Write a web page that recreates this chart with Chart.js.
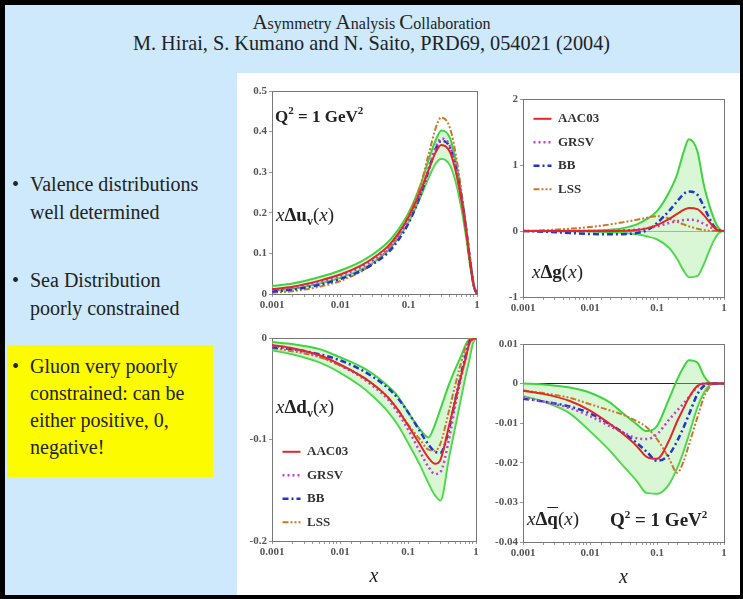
<!DOCTYPE html>
<html>
<head>
<meta charset="utf-8">
<script src="https://cdn.jsdelivr.net/npm/chart.js@4"></script>
<style>
  html, body { margin: 0; padding: 0; }
  body { width: 743px; height: 599px; overflow: hidden; background: #000; position: relative; font-family: 'Liberation Serif', serif; }
  #slide { position: absolute; left: 5px; top: 5px; width: 735px; height: 590px; background: #cde9fb; }
  #white { position: absolute; left: 237px; top: 73px; width: 503px; height: 522px; background: #fff; }
  .t1, .t2 { position: absolute; left: 0; width: 743px; text-align: center; color: #222; }
  .t1 { top: 10px; font-size: 16px; }
  .t1 .cap { font-size: 21px; }
  .t2 { top: 32px; font-size: 20.3px; }
  .bul { position: absolute; left: 12px; font-size: 20px; line-height: 28px; color: #222; }
  .bul .dot { position: absolute; left: 0; }
  .bul .txt { position: absolute; left: 18px; white-space: nowrap; }
  #yellow { position: absolute; left: 7px; top: 345px; width: 206px; height: 132px; background: #fdfb00; }
  canvas { position: absolute; }
  .lab { position: absolute; font-size: 19px; line-height: 1; color: #222; white-space: nowrap; }
  .lab sub { font-size: 12px; vertical-align: -4px; font-weight: bold; }
  .lab sup { font-size: 11px; vertical-align: 8px; }
  .q2 { font-weight: bold; }
</style>
</head>
<body>
<div id="slide"></div>
<div id="white"></div>
<div class="t1"><span class="cap">A</span>symmetry <span class="cap">A</span>nalysis <span class="cap">C</span>ollaboration</div>
<div class="t2">M. Hirai, S. Kumano and N. Saito, PRD69, 054021 (2004)</div>

<div class="bul" style="top:170px"><span class="dot">•</span><span class="txt">Valence distributions<br>well determined</span></div>
<div class="bul" style="top:266px"><span class="dot">•</span><span class="txt">Sea Distribution<br>poorly constrained</span></div>
<div id="yellow"></div>
<div class="bul" style="top:353px; line-height:27px"><span class="dot">•</span><span class="txt">Gluon very poorly<br>constrained: can be<br>either positive, 0,<br>negative!</span></div>

<canvas id="cUv"></canvas>
<canvas id="cG"></canvas>
<canvas id="cDv"></canvas>
<canvas id="cQb"></canvas>

<div class="lab q2" style="left:275px; top:105px; font-size:17px">Q<sup>2</sup> = 1 GeV<sup>2</sup></div>
<div class="lab" style="left:276px; top:205px"><i>x</i><b>Δu</b><sub>v</sub>(<i>x</i>)</div>
<div class="lab" style="left:532px; top:262px"><i>x</i><b>Δg</b>(<i>x</i>)</div>
<div class="lab" style="left:276px; top:397px"><i>x</i><b>Δd</b><sub>v</sub>(<i>x</i>)</div>
<div class="lab" style="left:527px; top:509px"><i>x</i><b>Δ<span style="text-decoration:overline">q</span></b>(<i>x</i>)</div>
<div class="lab q2" style="left:610px; top:509px">Q<sup>2</sup> = 1 GeV<sup>2</sup></div>

<script>
// x grid shared by all curves
const xs = [0.001, 0.002, 0.005, 0.01, 0.02, 0.03, 0.05, 0.07, 0.1, 0.15, 0.2, 0.25, 0.3, 0.4, 0.5, 0.6, 0.7, 0.8, 0.9, 1];
const seriesNames = ['AAC03', 'GRSV', 'BB', 'LSS'];
const xTickLabels = ['0.001', '0.01', '0.1', '1'];

// x Delta u_v
const uvAAC  = [0.012, 0.018, 0.033, 0.048, 0.07, 0.088, 0.118, 0.148, 0.19, 0.255, 0.31, 0.35, 0.367, 0.35, 0.295, 0.225, 0.15, 0.075, 0.02, 0];
const uvGRSV = [0.01, 0.016, 0.03, 0.045, 0.066, 0.083, 0.112, 0.142, 0.183, 0.25, 0.315, 0.362, 0.383, 0.365, 0.305, 0.232, 0.155, 0.078, 0.02, 0];
const uvBB   = [0.006, 0.011, 0.023, 0.037, 0.057, 0.074, 0.102, 0.132, 0.175, 0.245, 0.31, 0.358, 0.377, 0.362, 0.303, 0.23, 0.153, 0.077, 0.02, 0];
const uvLSS  = [0.003, 0.007, 0.018, 0.032, 0.055, 0.075, 0.11, 0.145, 0.195, 0.27, 0.35, 0.41, 0.435, 0.41, 0.335, 0.245, 0.16, 0.078, 0.02, 0];
const uvUp   = [0.02, 0.026, 0.042, 0.058, 0.08, 0.098, 0.128, 0.158, 0.2, 0.27, 0.335, 0.38, 0.403, 0.385, 0.32, 0.24, 0.16, 0.08, 0.022, 0];
const uvLow  = [0.008, 0.013, 0.026, 0.04, 0.06, 0.077, 0.107, 0.137, 0.178, 0.24, 0.29, 0.322, 0.333, 0.318, 0.27, 0.205, 0.135, 0.065, 0.017, 0];
const uvTicks = [0, 0.1, 0.2, 0.3, 0.4, 0.5];

// x Delta g
const gAAC  = [0, 0, 0, 0, 0, 0.003, 0.015, 0.04, 0.09, 0.18, 0.26, 0.32, 0.35, 0.33, 0.24, 0.14, 0.06, 0.015, 0.002, 0];
const gGRSV = [0, 0, 0, 0, 0.003, 0.008, 0.02, 0.04, 0.07, 0.12, 0.15, 0.165, 0.17, 0.155, 0.11, 0.07, 0.035, 0.01, 0.002, 0];
const gBB   = [0, -0.01, -0.03, -0.045, -0.05, -0.048, -0.03, 0.01, 0.12, 0.3, 0.45, 0.56, 0.6, 0.55, 0.37, 0.2, 0.08, 0.02, 0.003, 0];
const gLSS  = [0, 0.01, 0.035, 0.06, 0.1, 0.13, 0.17, 0.2, 0.225, 0.19, 0.14, 0.1, 0.07, 0.035, 0.015, 0.005, 0.002, 0, 0, 0];
const gUp   = [0, 0, 0.002, 0.006, 0.02, 0.04, 0.1, 0.18, 0.3, 0.58, 0.86, 1.2, 1.39, 1.21, 0.7, 0.4, 0.2, 0.07, 0.01, 0];
const gLow  = [0, 0, -0.002, -0.006, -0.015, -0.025, -0.05, -0.08, -0.125, -0.25, -0.42, -0.6, -0.7, -0.68, -0.5, -0.3, -0.15, -0.05, -0.008, 0];
const gTicks = [-1, 0, 1, 2];

// x Delta d_v
const dvAAC  = [-0.007, -0.01, -0.017, -0.026, -0.037, -0.045, -0.058, -0.07, -0.086, -0.105, -0.118, -0.124, -0.12, -0.087, -0.06, -0.038, -0.021, -0.005, -0.001, 0];
const dvGRSV = [-0.008, -0.011, -0.018, -0.027, -0.038, -0.047, -0.06, -0.073, -0.09, -0.112, -0.127, -0.134, -0.132, -0.1, -0.065, -0.04, -0.02, -0.005, -0.001, 0];
const dvBB   = [-0.009, -0.011, -0.016, -0.022, -0.031, -0.038, -0.049, -0.059, -0.073, -0.092, -0.105, -0.112, -0.113, -0.09, -0.06, -0.036, -0.018, -0.004, 0, 0];
const dvLSS  = [-0.01, -0.013, -0.019, -0.027, -0.037, -0.045, -0.058, -0.07, -0.085, -0.1, -0.11, -0.111, -0.104, -0.072, -0.045, -0.025, -0.01, -0.002, 0, 0];
const dvUp   = [-0.004, -0.006, -0.011, -0.019, -0.028, -0.035, -0.047, -0.057, -0.073, -0.09, -0.098, -0.085, -0.07, -0.046, -0.03, -0.018, -0.007, -0.001, 0, 0];
const dvLow  = [-0.012, -0.016, -0.024, -0.034, -0.047, -0.057, -0.072, -0.085, -0.103, -0.125, -0.143, -0.155, -0.16, -0.118, -0.086, -0.06, -0.038, -0.021, -0.005, 0];
const dvTicks = [-0.2, -0.1, 0];

// x Delta qbar
const qbAAC  = [-0.0018, -0.0026, -0.0044, -0.0068, -0.0102, -0.0125, -0.0158, -0.0185, -0.019, -0.0145, -0.0095, -0.0062, -0.0035, -0.0006, 0, 0, 0, 0, 0, 0];
const qbGRSV = [-0.0035, -0.0045, -0.0062, -0.0082, -0.0108, -0.0122, -0.0138, -0.014, -0.0128, -0.0092, -0.0068, -0.005, -0.0034, -0.0008, 0, 0, 0, 0, 0, 0];
const qbBB   = [-0.0038, -0.0045, -0.0058, -0.0075, -0.0103, -0.0122, -0.015, -0.0172, -0.0195, -0.018, -0.0145, -0.011, -0.0078, -0.0027, -0.0006, 0, 0, 0, 0, 0];
const qbLSS  = [-0.0017, -0.0024, -0.0036, -0.0052, -0.0068, -0.0078, -0.0095, -0.011, -0.014, -0.0188, -0.0225, -0.0196, -0.0154, -0.0086, -0.0035, -0.001, 0, 0, 0, 0];
const qbUp   = [0, -0.0002, -0.001, -0.0023, -0.0048, -0.0073, -0.0103, -0.012, -0.0107, -0.004, 0.001, 0.0042, 0.0059, 0.0053, 0.002, 0.0003, 0, 0, 0, 0];
const qbLow  = [-0.0031, -0.0045, -0.0075, -0.012, -0.017, -0.0204, -0.0246, -0.0276, -0.0278, -0.0255, -0.0213, -0.017, -0.0128, -0.006, -0.0023, -0.0005, 0, 0, 0, 0];
const qbTicks = [-0.04, -0.03, -0.02, -0.01, 0, 0.01];

const lineStyles = [
  { color: '#e3262b', dash: [], width: 2 },
  { color: '#c43fd0', dash: [2, 3], width: 2.5 },
  { color: '#2036cc', dash: [6, 3, 2, 3], width: 2.5 },
  { color: '#c8782a', dash: [6, 2, 2, 2, 2, 2], width: 2 }
];
const bandLine = '#3fd43f';
const bandFill = 'rgba(160, 235, 150, 0.4)';
const tickFont = { family: 'Liberation Serif', size: 11, weight: 'bold' };

// moves the in-plot legend down by dy pixels
const legendShift = {
  id: 'legendShift',
  afterLayout(chart, args, o) {
    if (chart.legend && o.dy) {
      chart.legend.top += o.dy;
      chart.legend.bottom += o.dy;
    }
  }
};

function pts(ys) {
  return xs.map((x, i) => ({ x: x, y: ys[i] }));
}

function fmt(v) {
  return v === 0 ? '0' : String(+v.toFixed(3));
}

function makePanel(id, area, curves, band, yTicks, opt) {
  const yW = 36, padT = 10, padR = 10, xH = opt.xTitle ? 52 : 22;
  const cv = document.getElementById(id);
  cv.width = (area.r - area.l) + yW + padR;
  cv.height = (area.b - area.t) + padT + xH;
  cv.style.left = (area.l - yW) + 'px';
  cv.style.top = (area.t - padT) + 'px';

  const datasets = curves.map((ys, i) => ({
    label: seriesNames[i],
    data: pts(ys),
    borderColor: lineStyles[i].color,
    borderDash: lineStyles[i].dash,
    borderWidth: lineStyles[i].width,
    xAxisID: 'x', yAxisID: 'y'
  }));
  datasets.push({ label: 'upper', data: pts(band[0]), borderColor: bandLine, borderWidth: 2,
    backgroundColor: bandFill, fill: '+1', xAxisID: 'x', yAxisID: 'y' });
  datasets.push({ label: 'lower', data: pts(band[1]), borderColor: bandLine, borderWidth: 2,
    fill: false, xAxisID: 'x', yAxisID: 'y' });

  const ymin = yTicks[0], ymax = yTicks[yTicks.length - 1];

  new Chart(cv, {
    type: 'line',
    data: { datasets: datasets },
    plugins: [legendShift],
    options: {
      responsive: false,
      animation: false,
      layout: { padding: { top: padT, right: padR, left: 0, bottom: 0 } },
      elements: { point: { radius: 0 }, line: { cubicInterpolationMode: 'monotone' } },
      plugins: {
        tooltip: { enabled: false },
        legendShift: { dy: opt.legendDy || 0 },
        legend: {
          display: opt.legendDy !== undefined,
          position: 'chartArea',
          align: 'start',
          title: { display: true, text: ' ', font: { size: 4 }, padding: 4 },
          labels: {
            usePointStyle: true,
            pointStyleWidth: 18,
            padding: 10.5,
            color: '#333',
            font: { family: 'Liberation Serif', size: 13, weight: 'bold' },
            generateLabels: chart => chart.data.datasets.slice(0, 4).map((ds, i) => ({
              text: ds.label, strokeStyle: ds.borderColor, fillStyle: 'transparent',
              lineDash: ds.borderDash, lineWidth: ds.borderWidth, pointStyle: 'line',
              fontColor: '#333', hidden: false, datasetIndex: i
            }))
          }
        }
      },
      scales: {
        x: {
          type: 'logarithmic', min: 0.001, max: 1, position: 'bottom',
          afterFit: s => { s.height = xH; },
          border: { color: '#777' },
          grid: { drawOnChartArea: false, tickLength: 3, color: '#999' },
          ticks: {
            autoSkip: false, maxRotation: 0, font: tickFont, color: '#555', padding: 2,
            callback: v => {
              const k = Math.log10(v) + 3;
              return Math.abs(k - Math.round(k)) < 1e-6 ? xTickLabels[Math.round(k)] : '';
            }
          },
          title: opt.xTitle ? { display: true, text: 'x', color: '#222',
            font: { family: 'Liberation Serif', size: 20, style: 'italic' } } : { display: false }
        },
        y: {
          min: ymin, max: ymax,
          afterFit: s => { s.width = yW; },
          afterBuildTicks: s => { s.ticks = yTicks.map(v => ({ value: v })); },
          border: { color: '#777' },
          grid: {
            drawOnChartArea: !!opt.zero, tickLength: 3, tickColor: '#999',
            color: c => (c.tick && c.tick.value === 0 ? opt.zero : 'transparent')
          },
          ticks: { font: tickFont, color: '#555', padding: 2, callback: v => fmt(v) }
        },
        xTop: {
          position: 'top', min: 0, max: 1,
          afterFit: s => { s.height = 0; },
          ticks: { display: false }, grid: { display: false }, border: { color: '#777' }
        },
        yRight: {
          position: 'right', min: 0, max: 1,
          afterFit: s => { s.width = 0; },
          ticks: { display: false }, grid: { display: false }, border: { color: '#777' }
        }
      }
    }
  });
}

makePanel('cUv', { l: 272, r: 477, t: 91, b: 294 }, [uvAAC, uvGRSV, uvBB, uvLSS], [uvUp, uvLow], uvTicks, {});
makePanel('cG', { l: 523, r: 724, t: 99, b: 297 }, [gAAC, gGRSV, gBB, gLSS], [gUp, gLow], gTicks, { legendDy: 0, zero: '#999' });
makePanel('cDv', { l: 272, r: 476, t: 338, b: 541 }, [dvAAC, dvGRSV, dvBB, dvLSS], [dvUp, dvLow], dvTicks, { legendDy: 94, xTitle: true });
makePanel('cQb', { l: 523, r: 724, t: 344, b: 542 }, [qbAAC, qbGRSV, qbBB, qbLSS], [qbUp, qbLow], qbTicks, { zero: '#222', xTitle: true });
</script>
</body>
</html>
